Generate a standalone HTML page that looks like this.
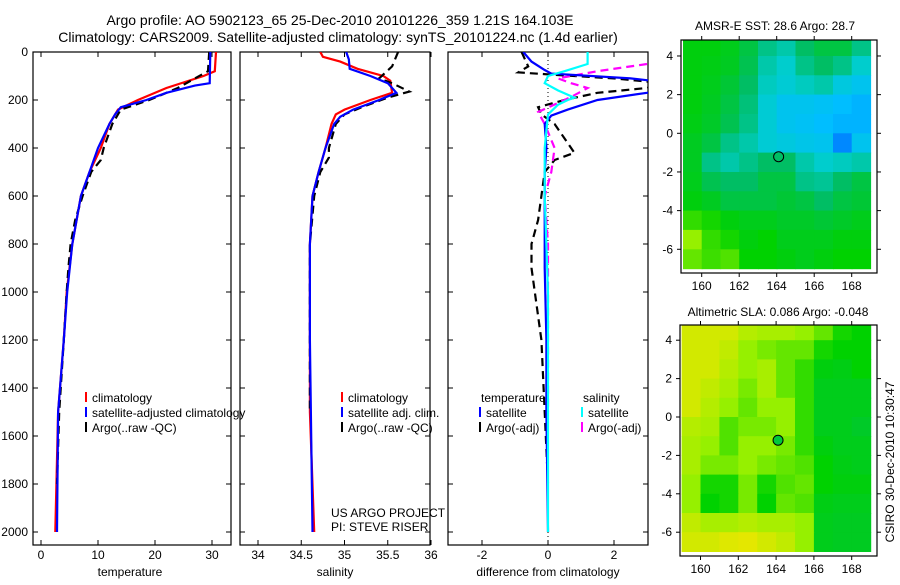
<!DOCTYPE html>
<html><head><meta charset="utf-8"><style>
body{margin:0;background:#fff;width:900px;height:580px;overflow:hidden}
svg text{font-family:"Liberation Sans",sans-serif;fill:#000}
</style></head><body>
<svg id="fig" width="900" height="580" xmlns="http://www.w3.org/2000/svg">
<text x="340" y="25" font-size="14" text-anchor="middle">Argo profile: AO 5902123_65 25-Dec-2010 20101226_359 1.21S 164.103E</text>
<text x="338" y="42" font-size="14" text-anchor="middle">Climatology: CARS2009. Satellite-adjusted climatology: synTS_20101224.nc (1.4d earlier)</text>
<text x="775" y="30" font-size="12" text-anchor="middle">AMSR-E SST: 28.6 Argo: 28.7</text>
<text x="778" y="316" font-size="12" text-anchor="middle">Altimetric SLA: 0.086 Argo: -0.048</text>
<text transform="translate(894,462) rotate(-90)" font-size="12" text-anchor="middle">CSIRO 30-Dec-2010 10:30:47</text>
<g id="plots"></g>
</svg>
<script>
// ---- profile data (depth in m) ----
const tClimDepth=[0,80,100,150,200,240,300,400,500,600,800,1000,1200,1500,2000];
const tClimVal=[30.7,30.5,28.5,22,17,13.5,12,10.5,8.5,7,5.5,4.5,4,3,2.5];
const tSatDepth=[0,130,140,170,200,230,260,300,400,500,600,800,1000,1200,1500,2000];
const tSatVal=[29.7,29.6,27,22,18.5,14,13,12,10,8.5,7,5.5,4.6,4,3,2.8];
const tArgoDepth=[0,80,110,150,200,240,300,400,450,500,600,700,800,900,1000,1200,1500,1800];
const tArgoVal=[29.5,29.3,27,24,19,14,12.5,11,10.5,8.8,7.3,6,5.2,4.8,4.5,4,3.2,2.8];
const sClimDepth=[0,20,40,70,100,120,170,200,240,260,300,400,500,600,800,1000,1500,2000];
const sClimVal=[34.72,34.75,34.95,35.15,35.45,35.53,35.55,35.3,35.0,34.9,34.85,34.78,34.7,34.63,34.6,34.6,34.6,34.65];
const sSatDepth=[0,30,70,100,130,170,200,240,270,300,400,500,600,800,1200,2000];
const sSatVal=[35.02,35.05,35.06,35.3,35.5,35.6,35.4,35.1,34.95,34.88,34.78,34.7,34.63,34.6,34.6,34.63];
const sArgoDepth=[0,60,110,130,165,190,230,260,300,400,440,500,600,800,1000,1500];
const sArgoVal=[35.62,35.55,35.4,35.55,35.75,35.5,35.2,35.0,34.9,34.82,34.82,34.72,34.65,34.6,34.6,34.6];
const dTSatDepth=[0,40,75,90,110,125,150,170,200,240,265,300,400,500,700,900,1200,1500,2000];
const dTSatVal=[-0.75,-0.5,-0.1,0.1,2.5,3.5,3.8,3,1.5,0.6,0.1,-0.1,-0.05,-0.1,-0.1,-0.1,-0.05,-0.05,0];
const dTArgoDepth=[0,60,85,95,110,130,150,170,200,230,260,300,380,420,450,500,600,700,800,900,1000,1200,1500,1800];
const dTArgoVal=[-0.8,-0.6,-0.9,0.2,2,3.5,3,1.5,0.5,-0.3,-0.2,0.2,0.6,0.8,0.2,-0.1,-0.2,-0.3,-0.5,-0.5,-0.4,-0.2,-0.1,0];
const dSSatDepth=[0,50,80,100,130,160,190,200,220,260,400,600,1000,2000];
const dSSatVal=[1.2,1.2,0.5,0,-0.1,0.3,0.8,0.6,0.3,0,-0.1,-0.1,0,0];
const dSArgoDepth=[50,80,110,130,150,180,200,250,300,400,500,600,800,1000,1500];
const dSArgoVal=[3,1.5,0.3,0.7,1.2,0.8,0.5,-0.3,-0.1,0.2,0.1,-0.1,0,0,0];
const depthTicks=[0,200,400,600,800,1000,1200,1400,1600,1800,2000];
const tTicks=[0,10,20,30];
const sTicks=[34,34.5,35,35.5,36];
const sTickLabels=["34","34.5","35","35.5","36"];
const dTicks=[-2,0,2];
// ---- map data: rows lat 4.5..-6.5, cols lon 159.5..168.5 (colour index 0..1) ----
const mapLons=[159.5,160.5,161.5,162.5,163.5,164.5,165.5,166.5,167.5,168.5];
const mapLats=[4.5,3.5,2.5,1.5,0.5,-0.5,-1.5,-2.5,-3.5,-4.5,-5.5,-6.5];
const sstGrid=[
[0.68,0.68,0.66,0.6,0.5,0.45,0.55,0.6,0.6,0.5],
[0.68,0.67,0.65,0.58,0.45,0.4,0.5,0.55,0.5,0.4],
[0.68,0.66,0.62,0.55,0.42,0.38,0.42,0.45,0.35,0.3],
[0.68,0.65,0.6,0.52,0.38,0.3,0.3,0.28,0.25,0.22],
[0.67,0.64,0.58,0.5,0.38,0.3,0.28,0.25,0.22,0.22],
[0.65,0.6,0.5,0.45,0.38,0.35,0.32,0.3,0.1,0.3],
[0.65,0.5,0.45,0.5,0.55,0.55,0.45,0.4,0.42,0.45],
[0.66,0.58,0.55,0.55,0.6,0.6,0.5,0.48,0.55,0.6],
[0.68,0.65,0.6,0.6,0.6,0.62,0.6,0.55,0.6,0.62],
[0.75,0.72,0.68,0.66,0.66,0.64,0.64,0.62,0.64,0.66],
[0.85,0.75,0.72,0.68,0.7,0.66,0.66,0.66,0.68,0.68],
[0.8,0.76,0.78,0.7,0.7,0.68,0.66,0.68,0.7,0.7]];
const slaGrid=[
[0.95,0.95,0.95,0.9,0.88,0.88,0.85,0.8,0.72,0.7],
[0.95,0.95,0.92,0.85,0.82,0.8,0.8,0.72,0.7,0.7],
[0.95,0.95,0.9,0.85,0.88,0.8,0.75,0.68,0.67,0.7],
[0.95,0.92,0.88,0.82,0.88,0.8,0.75,0.66,0.66,0.66],
[0.95,0.9,0.85,0.8,0.85,0.85,0.75,0.66,0.66,0.66],
[0.9,0.88,0.78,0.82,0.82,0.85,0.75,0.66,0.66,0.64],
[0.88,0.85,0.78,0.85,0.85,0.82,0.75,0.68,0.66,0.66],
[0.88,0.82,0.82,0.85,0.82,0.8,0.78,0.7,0.67,0.66],
[0.85,0.72,0.72,0.82,0.72,0.78,0.8,0.7,0.68,0.68],
[0.85,0.7,0.72,0.82,0.7,0.8,0.78,0.67,0.66,0.66],
[0.92,0.88,0.88,0.9,0.88,0.88,0.85,0.66,0.65,0.65],
[0.95,0.95,0.97,0.98,0.95,0.92,0.85,0.66,0.65,0.65]];
const lonTicks=[160,162,164,166,168];
const latTicks=[4,2,0,-2,-4,-6];
const argoLon=164.103, argoLat=-1.21;

const NS="http://www.w3.org/2000/svg";
const G=document.getElementById('plots');
function el(t,a,p){const e=document.createElementNS(NS,t);for(const k in a)e.setAttribute(k,a[k]);(p||G).appendChild(e);return e;}
function txt(x,y,s,sz,anc,p){const e=el('text',{x:x,y:y,'font-size':sz,'text-anchor':anc||'start'},p);e.textContent=s;return e;}

const yD=d=>52+d*0.24;
const panels=[
 {name:'temperature-panel',x0:33,x1:231,xs:v=>41+5.7*v,ticks:tTicks,labels:tTicks.map(String),xlabel:'temperature',lx:130,depthLabels:true},
 {name:'salinity-panel',x0:240,x1:430,xs:v=>258+86.5*(v-34),ticks:sTicks,labels:sTickLabels,xlabel:'salinity',lx:335},
 {name:'difference-panel',x0:448,x1:648,xs:v=>548+33*v,ticks:dTicks,labels:dTicks.map(String),xlabel:'difference from climatology',lx:548}
];
panels.forEach((P,i)=>{
 const g=el('g',{});
 
 
 const cp=el('clipPath',{id:'cp'+i},g);
 el('rect',{x:P.x0,y:52,width:P.x1-P.x0,height:493},cp);
 el('rect',{x:P.x0,y:52,width:P.x1-P.x0,height:493,fill:'#fff',stroke:'#000','stroke-width':1.2},g);
 depthTicks.forEach(d=>{
  const y=yD(d);
  el('line',{x1:P.x0,x2:P.x0+5,y1:y,y2:y,stroke:'#000'},g);
  el('line',{x1:P.x1-5,x2:P.x1,y1:y,y2:y,stroke:'#000'},g);
  if(P.depthLabels){const t=txt(28,y+4,String(d),12,'end',g);}
 });
 P.ticks.forEach((v,j)=>{
  const x=P.xs(v);
  el('line',{x1:x,x2:x,y1:545,y2:540,stroke:'#000'},g);
  el('line',{x1:x,x2:x,y1:52,y2:57,stroke:'#000'},g);
  const t=txt(x,559,P.labels[j],12,'middle',g);
  
  
 });
 const xl=txt(P.lx,576,P.xlabel,12,'middle',g);
 
 
 P.g=g;
});
function series(P,depths,vals,color,dash,name,i){
 const pts=depths.map((d,k)=>P.xs(vals[k]).toFixed(1)+','+yD(d).toFixed(1)).join(' ');
 const a={points:pts,fill:'none',stroke:color,'stroke-width':2.2,'clip-path':'url(#cp'+i+')'};
 if(dash)a['stroke-dasharray']='8,5';
 const e=el('polyline',a,P.g);
 
 
}
series(panels[0],tClimDepth,tClimVal,'#f00',false,'temp-climatology-line',0);
series(panels[0],tArgoDepth,tArgoVal,'#000',true,'temp-argo-line',0);
series(panels[0],tSatDepth,tSatVal,'#00f',false,'temp-satellite-line',0);
series(panels[1],sClimDepth,sClimVal,'#f00',false,'sal-climatology-line',1);
series(panels[1],sArgoDepth,sArgoVal,'#000',true,'sal-argo-line',1);
series(panels[1],sSatDepth,sSatVal,'#00f',false,'sal-satellite-line',1);
el('line',{x1:548,x2:548,y1:52,y2:545,stroke:'#000','stroke-dasharray':'1,3'},panels[2].g);
series(panels[2],dTArgoDepth,dTArgoVal,'#000',true,'temp-diff-argo-line',2);
series(panels[2],dSArgoDepth,dSArgoVal,'#f0f',true,'sal-diff-argo-line',2);
series(panels[2],dTSatDepth,dTSatVal,'#00f',false,'temp-diff-satellite-line',2);
series(panels[2],dSSatDepth,dSSatVal,'#0ff',false,'sal-diff-satellite-line',2);

function legend(x,y,color,label){
 const g=el('g',{});
 
 
 if(color)el('line',{x1:x,x2:x,y1:y-10,y2:y,stroke:color,'stroke-width':2},g);
 txt(x+6,y,label,12,'start',g);
}
legend(86,402,'#f00','climatology');legend(86,417,'#00f','satellite-adjusted climatology');legend(86,432,'#000','Argo(..raw -QC)');
legend(342,402,'#f00','climatology');legend(342,417,'#00f','satellite adj. clim.');legend(342,432,'#000','Argo(..raw -QC)');
legend(475,402,null,'temperature');legend(480,417,'#00f','satellite');legend(480,432,'#000','Argo(-adj)');
legend(577,402,null,'salinity');legend(582,417,'#0ff','satellite');legend(582,432,'#f0f','Argo(-adj)');
const n1=txt(331,517,'US ARGO PROJECT',12);
const n2=txt(331,531,'PI: STEVE RISER',12);

// ---- maps ----
const stops=[[0,[0,100,255]],[0.25,[0,190,255]],[0.4,[0,205,205]],[0.55,[0,190,100]],[0.7,[0,210,0]],[0.85,[150,240,0]],[1,[240,230,0]]];
function cmap(v){for(let k=1;k<stops.length;k++){if(v<=stops[k][0]){const a=stops[k-1],b=stops[k],f=(v-a[0])/(b[0]-a[0]);return 'rgb('+a[1].map((c,j)=>Math.round(c+(b[1][j]-c)*f)).join(',')+')';}}return 'rgb(240,230,0)';}
function drawMap(name,grid,x0,y0,w,h,lonA,pxLon,latA,pxLat,fillDot,idx){
 const g=el('g',{});
 
 
 const X=lon=>lonA+(lon-160)*pxLon, Y=lat=>latA-lat*pxLat;
 const cp=el('clipPath',{id:'mc'+idx},g);
 el('rect',{x:x0,y:y0,width:w,height:h},cp);
 const cg=el('g',{'clip-path':'url(#mc'+idx+')'},g);
 mapLats.forEach((lat,r)=>mapLons.forEach((lon,c)=>{
  const x=X(lon-0.5),y=Y(lat+0.5);
  const e=el('rect',{x:x.toFixed(1),y:y.toFixed(1),width:(pxLon+0.6).toFixed(1),height:(pxLat+0.6).toFixed(1),fill:cmap(grid[r][c])},cg);
  
  
 }));
 el('rect',{x:x0,y:y0,width:w,height:h,fill:'none',stroke:'#000','stroke-width':1.2},g);
 lonTicks.forEach(l=>{const x=X(l);el('line',{x1:x,x2:x,y1:y0,y2:y0-4,stroke:'#000'},g);el('line',{x1:x,x2:x,y1:y0+h,y2:y0+h+4,stroke:'#000'},g);
  const t=txt(x,y0+h+17,String(l),12,'middle',g);});
 latTicks.forEach(l=>{const y=Y(l);el('line',{x1:x0,x2:x0-4,y1:y,y2:y,stroke:'#000'},g);el('line',{x1:x0+w,x2:x0+w+4,y1:y,y2:y,stroke:'#000'},g);
  const t=txt(x0-8,y+4,String(l),12,'end',g);});
 const c=el('circle',{cx:X(argoLon),cy:Y(argoLat),r:5,fill:fillDot,stroke:'#000','stroke-width':1},g);
 
 
}
drawMap('sst-map',sstGrid,681,40,196,233,701.7,18.75,133.3,19.33,'none',0);
drawMap('sla-map',slaGrid,680,325,197,231,700.5,18.9,417,19.2,'rgb(0,200,60)',1);
</script>
</body></html>
